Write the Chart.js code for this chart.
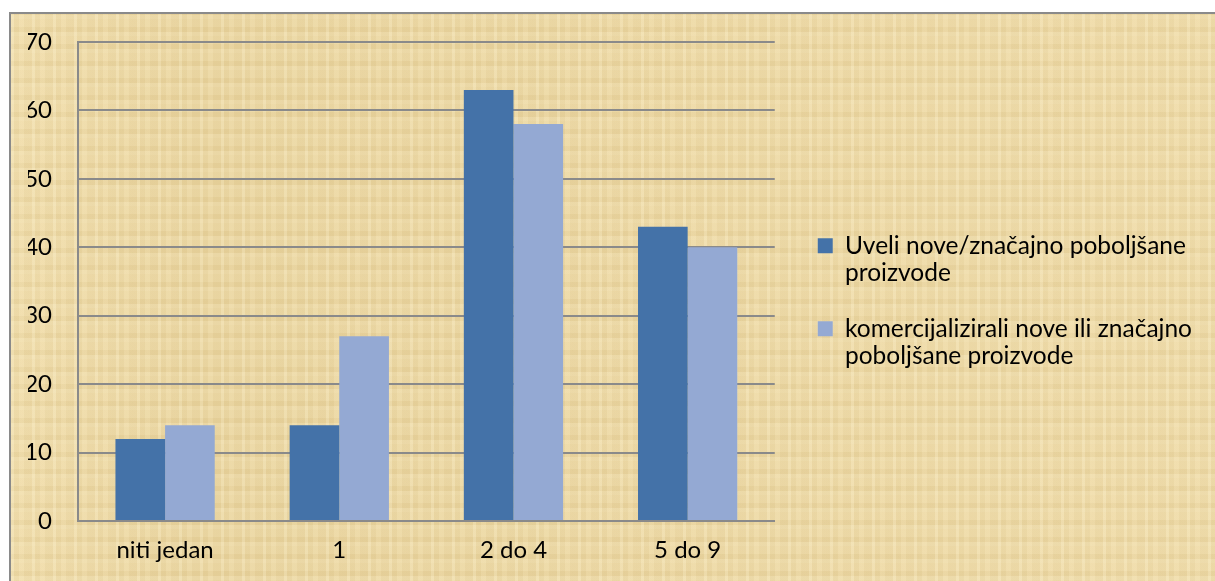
<!DOCTYPE html>
<html>
<head>
<meta charset="utf-8">
<script src="https://cdn.jsdelivr.net/npm/chart.js@4/dist/chart.umd.min.js"></script>
<style>
  html, body { margin: 0; padding: 0; background: #fff; overflow: hidden; }
  #okvir {
    position: absolute; left: 9px; top: 12px; width: 1220px; height: 600px;
    border-left: 2px solid #8a8a8a; border-top: 2px solid #8a8a8a;
    background-color: #e9d49f;
    background-image:
      repeating-linear-gradient(90deg, rgba(255,246,214,0.22) 0 3px, rgba(196,168,100,0.07) 3px 8px, rgba(255,240,200,0.12) 8px 13px, rgba(190,160,95,0.05) 13px 21px),
      repeating-linear-gradient(0deg, rgba(255,246,214,0.18) 0 4px, rgba(190,160,90,0.07) 4px 9px, rgba(255,242,205,0.1) 9px 17px),
      linear-gradient(90deg, rgba(255,240,200,0.25), rgba(255,240,200,0) 15%, rgba(255,240,200,0.1) 60%, rgba(255,240,200,0.2));
  }
  #graf { position: absolute; left: 0; top: 0; }
</style>
</head>
<body>
<div id="okvir"></div>
<canvas id="graf" width="1215" height="581"></canvas>
<script>
const kategorije = ["niti jedan", "1", "2 do 4", "5 do 9"];
const uveli = [12, 14, 63, 43];
const komercijalizirali = [14, 27, 58, 40];
const nazivUveli = ["Uveli nove/značajno poboljšane", "proizvode"];
const nazivKomerc = ["komercijalizirali nove ili značajno", "poboljšane proizvode"];

const font = "Lato, 'Open Sans', sans-serif";
const siva = "#8a8a8a";

function crtajGraf() {
  const ctx = document.getElementById("graf").getContext("2d");
  new Chart(ctx, {
    type: "bar",
    data: {
      labels: kategorije,
      datasets: [
        { label: nazivUveli, data: uveli, backgroundColor: "#4472a8" },
        { label: nazivKomerc, data: komercijalizirali, backgroundColor: "#94a9d3" }
      ]
    },
    options: {
      responsive: false,
      devicePixelRatio: 1,
      animation: false,
      categoryPercentage: 0.57,
      barPercentage: 1.0,
      layout: { padding: { left: 28, top: 42, bottom: 18, right: 13 } },
      scales: {
        x: {
          grid: { display: false, drawTicks: false },
          border: { display: true, color: siva, width: 2 },
          ticks: { color: "#000", padding: 17, font: { family: font, size: 24, lineHeight: 1.0 } },
          afterFit: s => { s.height = 42; s.paddingLeft = 0; s.paddingRight = 0; }
        },
        y: {
          min: 0, max: 70,
          grid: { color: siva, lineWidth: 2, drawTicks: false },
          border: { display: true, color: siva, width: 2 },
          ticks: { stepSize: 10, color: "#000", padding: 26, font: { family: font, size: 24 } },
          afterFit: s => { s.width = 50; }
        },
        y2: {
          // prazna os, samo razmak izmedju grafa i legende
          position: "right",
          grid: { display: false, drawTicks: false },
          border: { display: false },
          ticks: { display: false },
          afterFit: s => { s.width = 15; }
        }
      },
      plugins: {
        tooltip: { enabled: false },
        legend: {
          position: "right",
          maxWidth: 425,
          labels: {
            boxWidth: 15, boxHeight: 15, padding: 28, color: "#000",
            font: { family: font, size: 24.5, lineHeight: 1.12 }
          }
        }
      }
    }
  });
}

document.addEventListener("DOMContentLoaded", crtajGraf);
</script>
</body>
</html>
